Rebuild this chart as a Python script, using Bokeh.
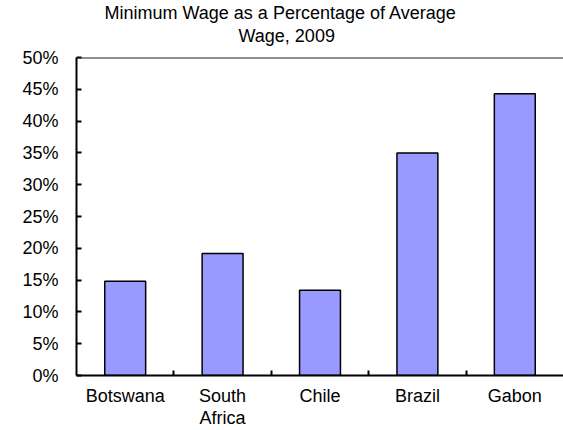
from bokeh.plotting import figure
from bokeh.models import FixedTicker, NumeralTickFormatter, ColumnDataSource, Title, Span
from bokeh.embed import file_html
from bokeh.resources import INLINE

categories = ["Botswana", "South\nAfrica", "Chile", "Brazil", "Gabon"]
values = [0.148, 0.192, 0.134, 0.350, 0.443]
y_ticks = [0.0, 0.05, 0.10, 0.15, 0.20, 0.25, 0.30, 0.35, 0.40, 0.45, 0.50]
title_lines = ["Minimum Wage as a Percentage of Average", "Wage, 2009"]

xs = list(range(1, len(categories) + 1))
src = ColumnDataSource(dict(x=xs, top=values))

FONT = "Liberation Sans"
FS = "18px"
Y_MAX = y_ticks[-1]

p = figure(width=563, height=430, x_range=(0.5, len(categories) + 0.5), y_range=(0, Y_MAX),
           output_backend="svg", toolbar_location=None,
           min_border_left=76, min_border_right=0, min_border_top=57, min_border_bottom=54)

p.outline_line_color = None
p.xgrid.grid_line_color = None
p.ygrid.grid_line_color = None
p.background_fill_color = "white"
p.border_fill_color = "white"

p.vbar(x="x", top="top", width=0.42, bottom=0, source=src,
       fill_color="#9999FF", line_color="black", line_width=1.5)

# y axis
ya = p.yaxis[0]
ya.ticker = FixedTicker(ticks=y_ticks)
ya.formatter = NumeralTickFormatter(format="0%")
ya.axis_line_width = 2
ya.axis_line_color = "black"
ya.major_tick_in = 5
ya.major_tick_out = 0
ya.major_tick_line_width = 2
ya.minor_tick_line_color = None
ya.major_label_standoff = 18
ya.major_label_text_font = FONT
ya.major_label_text_font_size = FS
ya.major_label_text_color = "black"

# x axis
xa = p.xaxis[0]
xa.ticker = FixedTicker(ticks=xs, minor_ticks=[i + 0.5 for i in xs[:-1]])
xa.major_label_overrides = {i: c for i, c in zip(xs, categories)}
xa.axis_line_width = 2
xa.axis_line_color = "black"
xa.major_tick_in = 0
xa.major_tick_out = 0
xa.minor_tick_in = 5
xa.minor_tick_out = 0
xa.minor_tick_line_width = 2
xa.minor_tick_line_color = "black"
xa.major_label_standoff = 10
xa.major_label_text_font = FONT
xa.major_label_text_font_size = FS
xa.major_label_text_line_height = 1.1
xa.major_label_text_color = "black"

# top border line of the plot area
p.add_layout(Span(location=Y_MAX, dimension="width", line_width=2, line_color="#222222"))

spacer = Title(text=" ", text_font_size="1px", standoff=8)
p.add_layout(spacer, "above")
t2 = Title(text=title_lines[1], align="left", offset=162, text_font=FONT,
           text_font_size=FS, text_font_style="normal", text_color="black", standoff=2)
p.add_layout(t2, "above")
t1 = Title(text=title_lines[0], align="left", offset=28, text_font=FONT,
           text_font_size=FS, text_font_style="normal", text_color="black", standoff=0)
p.add_layout(t1, "above")

open("out.html", "w").write(file_html(p, INLINE))
